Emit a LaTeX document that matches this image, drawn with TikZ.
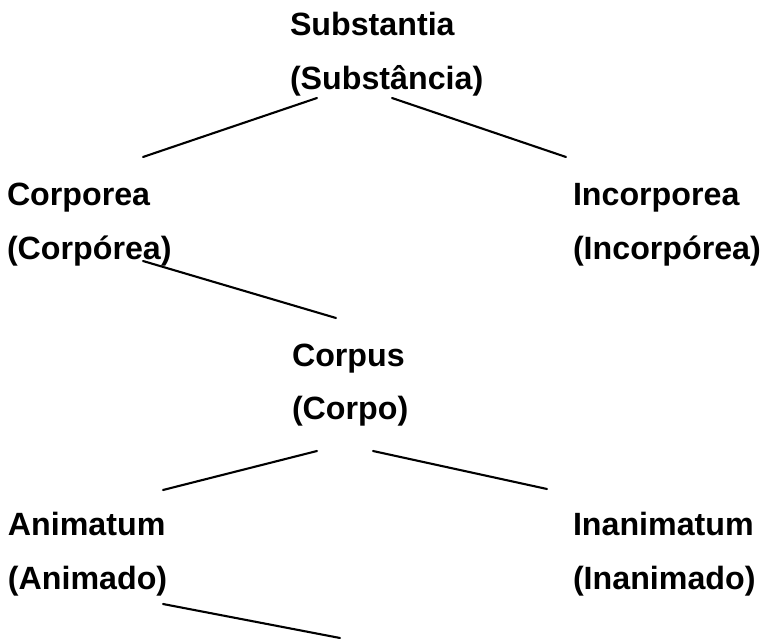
\documentclass[tikz,border=0pt]{standalone}
\usepackage{fontspec}
\setmainfont{Liberation Sans}
\usepackage{tikz}
\usetikzlibrary{positioning}
\usetikzlibrary{calc}
\tikzstyle{concept} = [inner sep=0pt, outer sep=0pt, align=left, anchor=base west, font=\bfseries\fontsize{32.2}{54}\selectfont]
\tikzstyle{branch} = [line width=2.1pt, line cap=round]

\begin{document}
\begin{tikzpicture}[x=1pt, y=-1pt]
	\useasboundingbox (0,0) rectangle (764,639);

	% anchors sit on the baseline of the second line
	\node [concept] (substantia) at (290,90) {Substantia\\(Substância)};
	\node [concept] (corporea) at (7,260) {Corporea\\(Corpórea)};
	\node [concept] (incorporea) at (573,260) {Incorporea\\(Incorpórea)};
	\node [concept] (corpus) at (292,420) {Corpus\\(Corpo)};
	\node [concept] (animatum) at (8,589) {Animatum\\(Animado)};
	\node [concept] (inanimatum) at (573,589) {Inanimatum\\(Inanimado)};
	\coordinate (down) at (340,638);

	\draw [branch] ([shift={(27,8)}]substantia.base west) -- ([shift={(136,-103)}]corporea.base west);
	\draw [branch] ([shift={(102,8)}]substantia.base west) -- ([shift={(-7,-103)}]incorporea.base west);
	\draw [branch] ([shift={(136,1)}]corporea.base west) -- ([shift={(44,-102)}]corpus.base west);
	\draw [branch] ([shift={(25,31)}]corpus.base west) -- ([shift={(155,-99)}]animatum.base west);
	\draw [branch] ([shift={(81,31)}]corpus.base west) -- ([shift={(-26,-100)}]inanimatum.base west);
	\draw [branch] ([shift={(155,15)}]animatum.base west) -- (down);

\end{tikzpicture}
\end{document}
